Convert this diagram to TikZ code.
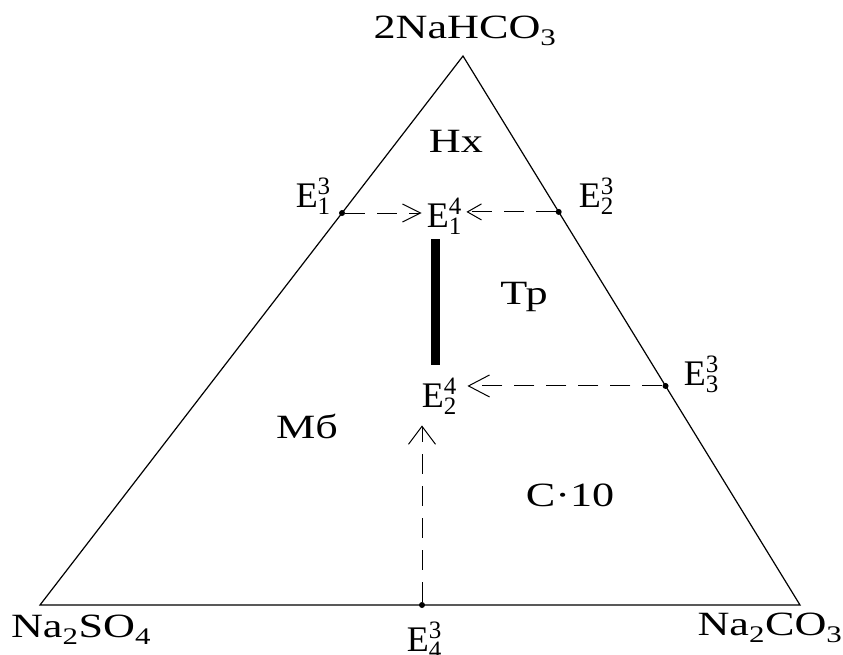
\documentclass[tikz,border=0pt]{standalone}
\usepackage{fontspec}
\setmainfont{Liberation Serif}[FakeStretch=1.3]
\newfontfamily\efont{Liberation Serif}
\usetikzlibrary{arrows.meta,calc}
\newcommand{\Ept}[2]{{\efont\fontsize{36}{40}\selectfont E\fontsize{25}{25}\selectfont
  \makebox[0pt][l]{\raisebox{13pt}{#1}}\raisebox{-7pt}{#2}}}

\begin{document}
\begin{tikzpicture}[x=1pt, y=-1pt, font=\fontsize{34}{40}\selectfont,
  side/.style={line width=1.2pt, line join=miter},
  tie/.style={dash pattern=on 20pt off 12pt, line width=1pt},
  bar/.style={line width=9pt},
  pt/.style={circle,fill,inner sep=0pt,minimum size=6pt},
  lbl/.style={inner sep=0pt},
  ept/.style={inner sep=5pt}]
  \useasboundingbox (0,0) rectangle (843,654);
  \coordinate (A) at (463,56);
  \coordinate (L) at (40,605);
  \coordinate (R) at (800,605);
  \draw[side] (A) -- (L) -- (R) -- cycle;
  % corners
  \node[lbl] (nahco) at (465,31) {2NaHCO\textsubscript{3}};
  \node[lbl] (naso) at (81,630) {Na\textsubscript{2}SO\textsubscript{4}};
  \node[lbl] (naco) at (770,628) {Na\textsubscript{2}CO\textsubscript{3}};
  % fields
  \node[lbl] (hx) at (456,141) {Нх};
  \node[lbl] (tr) at (524,297) {Тр};
  \node[lbl] (mb) at (307,426) {Мб};
  \node[lbl] (c10) at (570,495) {С·10};
  % triple points on the sides
  \node[pt] (e13) at ($(A)!0.286!(L)$) {};
  \node[pt] (e23) at ($(A)!0.284!(R)$) {};
  \node[pt] (e33) at ($(A)!0.601!(R)$) {};
  \node[pt] (e43) at (422,605) {};
  \node[lbl] (l13) at (313,196) {\Ept{3}{1}};
  \node[lbl] (l23) at (596,196) {\Ept{3}{2}};
  \node[lbl] (l33) at (701,374) {\Ept{3}{3}};
  \node[lbl] (l43) at (424,640) {\Ept{3}{4}};
  % quadruple points
  \node[ept] (E14) at (444,216) {\Ept{4}{1}};
  \node[ept] (E24) at (439,396) {\Ept{4}{2}};
  \coordinate (b) at (435,0);
  \draw[bar,shorten >=8pt] (E14.south -| b) -- (E24.north -| b);
  \draw[tie,-{Straight Barb[length=18pt,width=18pt]}] (e13) -- (e13 -| E14.west);
  \draw[tie,-{Straight Barb[length=14pt,width=16pt]}] (e23) -- (e23 -| E14.east);
  \draw[tie,-{Straight Barb[length=21pt,width=22pt]},shorten >=6pt] (e33) -- (e33 -| E24.east);
  \draw[tie,-{Straight Barb[length=18pt,width=27pt]},shorten >=6pt] (e43) -- (e43 |- E24.south);
\end{tikzpicture}
\end{document}
